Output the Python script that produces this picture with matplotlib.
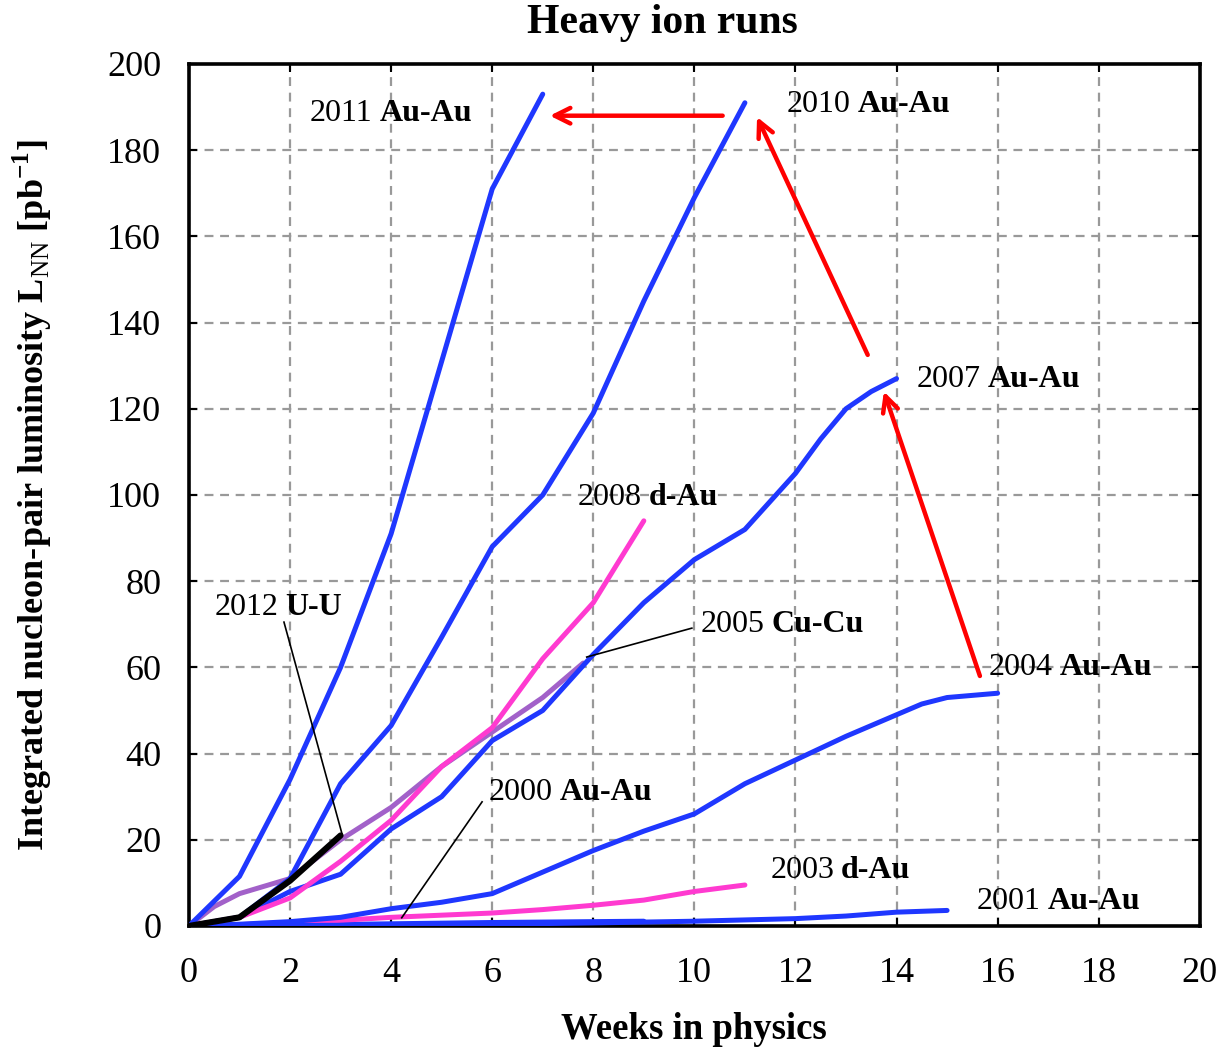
import matplotlib
matplotlib.use("Agg")
from matplotlib import pyplot as plt

plt.rcParams["font.family"] = ["Liberation Serif", "DejaVu Serif"]
plt.rcParams["mathtext.fontset"] = "custom"
plt.rcParams["mathtext.rm"] = "Liberation Serif"
plt.rcParams["mathtext.bf"] = "Liberation Serif:bold"

BLUE = "#1f37ff"
PINK = "#ff3ad0"
PURPLE = "#a261c9"

# integrated luminosity per run [pb^-1] vs. weeks in physics
w_2011 = [0, 1, 2, 3, 4, 5, 6, 7]
l_2011 = [0, 11.5, 34, 60, 91, 131, 171, 193]

w_2010 = [0, 1, 2, 3, 4, 5, 6, 7, 8, 9, 10, 11]
l_2010 = [0, 2, 11, 33, 46.5, 67, 88, 100, 119, 145, 169, 191]

w_2007 = [0, 1, 2, 3, 4, 5, 6, 7, 8, 9, 10, 11, 12, 12.5, 13, 13.5, 14]
l_2007 = [0, 2, 8, 12, 22.5, 30, 43, 50, 63, 75, 85, 92, 105, 113, 120, 124, 127]

w_2008 = [0, 1, 2, 3, 4, 5, 6, 7, 8, 9]
l_2008 = [0, 2, 6.5, 15, 24.5, 37, 46, 62, 75, 94]

w_2005 = [0, 0.5, 1, 2, 3, 4, 5, 6, 7, 7.8]
l_2005 = [0, 4.5, 7.5, 11, 20, 27.5, 37, 45, 53, 61]

w_2012 = [0, 1, 2, 3]
l_2012 = [0, 2, 10.5, 21]

w_2004 = [0, 1, 2, 3, 4, 5, 6, 7, 8, 9, 10, 11, 12, 13, 14, 14.5, 15, 16]
l_2004 = [0, 0.4, 1, 2, 4, 5.5, 7.5, 12.5, 17.5, 22, 26, 33, 38.5, 44, 49, 51.5, 53, 54]

w_2003 = [0, 1, 2, 3, 4, 5, 6, 7, 8, 9, 10, 11]
l_2003 = [0, 0.3, 0.8, 1.3, 2, 2.5, 3, 3.8, 4.8, 6, 8, 9.5]

w_2000 = [0, 2, 4, 6, 8, 9]
l_2000 = [0, 0.2, 0.5, 0.8, 1.0, 1.1]

w_2001 = [0, 2, 4, 6, 8, 10, 12, 13, 14, 15]
l_2001 = [0, 0.1, 0.2, 0.4, 0.7, 1.1, 1.7, 2.3, 3.2, 3.6]

fig = plt.figure(figsize=(12.23, 10.49), dpi=100)
ax = fig.add_axes([0.1545, 0.1173, 0.8265, 0.8217])

lw = 3.6
kw = dict(lw=lw, solid_joinstyle="round", solid_capstyle="round")
ax.plot(w_2000, l_2000, color=BLUE, zorder=3, **kw)
ax.plot(w_2003, l_2003, color=PINK, zorder=3, **kw)
ax.plot(w_2001, l_2001, color=BLUE, zorder=4, **kw)
ax.plot(w_2004, l_2004, color=BLUE, zorder=3, **kw)
ax.plot(w_2005, l_2005, color=PURPLE, zorder=3, **kw)
ax.plot(w_2007, l_2007, color=BLUE, zorder=3, **kw)
ax.plot(w_2008, l_2008, color=PINK, zorder=4, **kw)
ax.plot(w_2010, l_2010, color=BLUE, zorder=3, **kw)
ax.plot(w_2011, l_2011, color=BLUE, zorder=3, **kw)
ax.plot(w_2012, l_2012, color="black", lw=4.4, zorder=5,
        solid_joinstyle="round", solid_capstyle="round")

ax.set_xlim(0, 20)
ax.set_ylim(0, 200)
ax.set_xticks(range(0, 21, 2))
ax.set_yticks(range(0, 201, 20))
ax.grid(True, ls=(0, (4, 3)), color="#999999", lw=1.6)
ax.tick_params(direction="in", length=6, width=1.5, labelsize=26,
               top=True, right=True)
ax.tick_params(axis="x", pad=22)
ax.tick_params(axis="y", pad=20)
for s in ax.spines.values():
    s.set_linewidth(2.6)

ax.set_xlabel("Weeks in physics", fontsize=26.5, fontweight="bold", labelpad=16)
ax.set_ylabel(r"Integrated nucleon-pair luminosity L$_\mathrm{NN}$ [pb$^{\mathbf{-1}}$]",
              fontsize=26, fontweight="bold", labelpad=38)
fig.text(0.542, 0.978, "Heavy ion runs", fontsize=30, fontweight="bold",
         ha="center", va="center")


def run_label(x, y, year, ions):
    t = ax.text(x, y, year, fontsize=23, ha="left", va="center", zorder=6)
    ax.annotate(ions, xy=(1, 0), xycoords=t, xytext=(5, 0),
                textcoords="offset points", fontsize=23, fontweight="bold",
                ha="left", va="bottom", zorder=6)


run_label(2.39, 188.6, "2011", "Au-Au")
run_label(11.83, 190.7, "2010", "Au-Au")
run_label(14.4, 126.9, "2007", "Au-Au")
run_label(7.7, 99.5, "2008", "d-Au")
run_label(10.13, 70.0, "2005", "Cu-Cu")
run_label(0.5, 74.0, "2012", "U-U")
run_label(15.83, 60.0, "2004", "Au-Au")
run_label(5.93, 30.9, "2000", "Au-Au")
run_label(11.5, 12.8, "2003", "d-Au")
run_label(15.59, 5.6, "2001", "Au-Au")

# leader lines
for (x0, y0), (x1, y1) in [((1.88, 70.5), (3.03, 21.3)),
                           ((9.95, 69.1), (7.87, 62.4)),
                           ((5.8, 28.8), (4.21, 1.9))]:
    ax.plot([x0, x1], [y0, y1], color="black", lw=1.2, zorder=6)

# red arrows showing the run-to-run improvement
for (x0, y0), (x1, y1) in [((10.56, 188), (7.14, 188)),
                           ((13.43, 132.5), (11.24, 187.7)),
                           ((15.65, 58), (13.75, 124))]:
    ax.annotate("", xy=(x1, y1), xytext=(x0, y0),
                arrowprops=dict(arrowstyle="->", color="red", lw=3.2,
                                mutation_scale=28, shrinkA=0, shrinkB=0),
                zorder=6)

fig.savefig("out.png", dpi=100)
